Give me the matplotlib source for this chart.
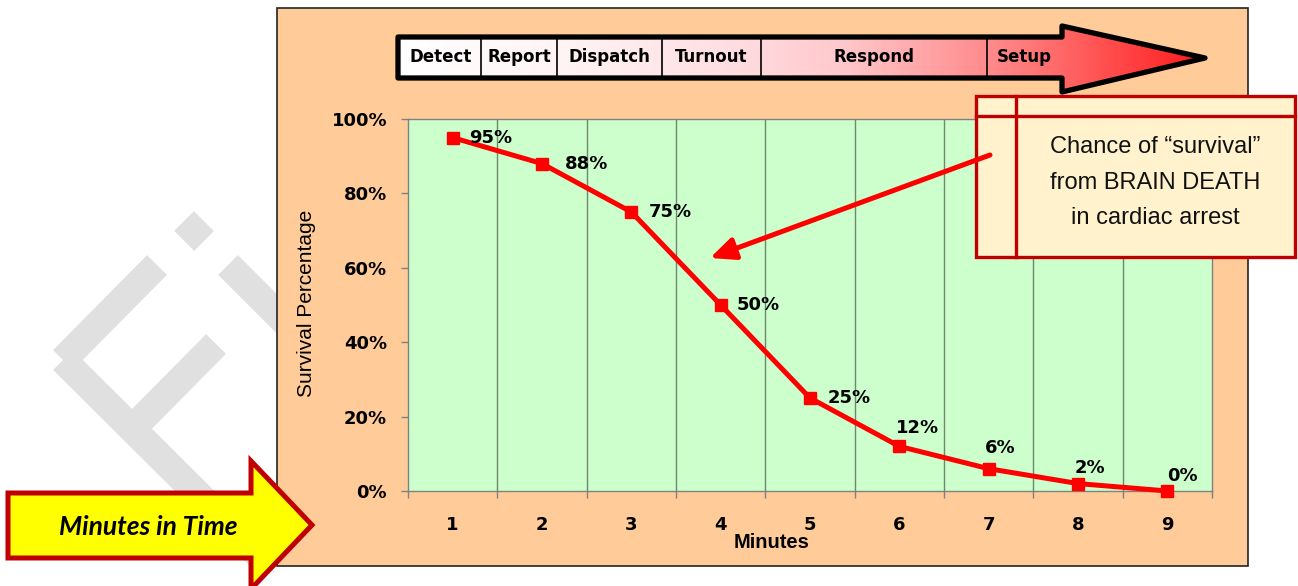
import numpy as np
import matplotlib
matplotlib.use("Agg")
import matplotlib.pyplot as plt
from matplotlib.patches import Polygon, Rectangle, FancyArrowPatch
from matplotlib.colors import LinearSegmentedColormap

# survival chance by minute after cardiac arrest
minutes = [1, 2, 3, 4, 5, 6, 7, 8, 9]
survival = [0.95, 0.88, 0.75, 0.50, 0.25, 0.12, 0.06, 0.02, 0.00]
y_ticks = [0, 0.2, 0.4, 0.6, 0.8, 1.0]
y_tick_labels = ["0%", "20%", "40%", "60%", "80%", "100%"]
stages = ["Detect", "Report", "Dispatch", "Turnout", "Respond", "Setup"]
callout_lines = ["Chance of \u201csurvival\u201d", "from BRAIN DEATH", "in cardiac arrest"]

# label offsets in pixels (dx, dy up) from each point
label_off = [(38, 0), (45, 0), (39, 0), (38, 0), (39, 0),
             (18, 18), (12, 21), (12, 16), (15, 15)]

W, H = 1298, 586
fig = plt.figure(figsize=(W / 100, H / 100), dpi=100)
fig.patch.set_facecolor("white")

# background layer in pixel coordinates
bg = fig.add_axes([0, 0, 1, 1], zorder=0)
bg.set_xlim(0, W)
bg.set_ylim(H, 0)
bg.axis("off")

# faint watermark strokes
wm = "#e0e0e0"
wm_lw = 28 * 0.72
for (x0, y0), (x1, y1) in [((63, 360), (157, 265)), ((63, 360), (260, 556)),
                           ((128, 433), (216, 344)), ((184, 221), (204, 241)),
                           ((228, 265), (300, 337))]:
    bg.plot([x0, x1], [y0, y1], color=wm, lw=wm_lw, solid_capstyle="butt")

bg.add_patch(Rectangle((277, 8), 971, 558, facecolor="#ffcc99",
                       edgecolor="#222222", lw=1.2, zorder=2))

# main chart
ax = fig.add_axes([408 / W, 1 - 491 / H, 804 / W, 372 / H], zorder=1)
ax.set_facecolor("#ccffcc")
ax.set_xlim(0.5, 9.5)
ax.set_ylim(0, 1)
for s in ax.spines.values():
    s.set_color("#808080")
    s.set_linewidth(1)

for b in np.arange(1.5, 9, 1):
    ax.axvline(b, color="#6f876f", lw=1.0, zorder=1)

ax.plot(minutes, survival, color="#ff0000", lw=3.6, marker="s",
        markersize=8, zorder=3, clip_on=False)

for m, v, (dx, dy) in zip(minutes, survival, label_off):
    ax.annotate(f"{v * 100:.0f}%", (m, v), xytext=(dx, dy),
                textcoords="offset pixels", ha="center", va="center",
                fontsize=13, fontweight="bold", family="DejaVu Sans", zorder=4)

ax.set_yticks(y_ticks)
ax.set_yticklabels(y_tick_labels)
ax.set_xticks(minutes)
ax.set_xticks(np.arange(0.5, 10, 1), minor=True)
ax.tick_params(axis="y", direction="out", length=5, width=1, color="#808080",
               pad=10, labelsize=13)
ax.tick_params(axis="x", which="major", length=0, pad=18, labelsize=13)
ax.tick_params(axis="x", which="minor", direction="out", length=5, width=1,
               color="#808080")
for lab in ax.get_xticklabels() + ax.get_yticklabels():
    lab.set_fontweight("bold")
    lab.set_family("DejaVu Sans")

fig.text(772 / W, 1 - 542 / H, "Minutes", ha="center", va="center",
         fontsize=14.5, fontweight="bold", family="Liberation Sans")
fig.text(307 / W, 1 - 303 / H, "Survival Percentage", ha="center", va="center",
         rotation=90, fontsize=15, family="Liberation Sans")

# overlay layer for arrows and callout
top = fig.add_axes([0, 0, 1, 1], zorder=3)
top.patch.set_alpha(0)
top.axis("off")

# timeline arrow with white-to-red gradient
arrow_pts = [(398, 37), (1062, 37), (1062, 26), (1205, 58),
             (1062, 92), (1062, 78), (398, 78)]
grad = LinearSegmentedColormap.from_list(
    "wr", [(0, "#ffffff"), (0.2, "#fff4f5"), (0.42, "#ffdde0"),
           (0.55, "#ffc8cc"), (0.78, "#ff7a7a"), (1.0, "#ff1a1a")])
img = top.imshow(np.linspace(0, 1, 256).reshape(1, -1), cmap=grad,
                 extent=(398, 1205, 92, 26), aspect="auto", zorder=1)
clip = Polygon(arrow_pts, closed=True, transform=top.transData)
img.set_clip_path(clip)
top.add_patch(Polygon(arrow_pts, closed=True, facecolor="none",
                      edgecolor="black", lw=3.8, joinstyle="round", zorder=3))
bounds = [400, 481, 557, 662, 761, 987, 1062]
for xb in bounds[1:-1]:
    top.plot([xb, xb], [39, 76], color="black", lw=1.2, zorder=2)
for name, x0, x1 in zip(stages, bounds[:-1], bounds[1:]):
    top.text((x0 + x1) / 2, 57.5, name, ha="center", va="center",
             fontsize=12, fontweight="bold", family="DejaVu Sans", zorder=4)

# callout box
top.add_patch(Rectangle((976, 96), 319, 161, facecolor="#fff2cc",
                        edgecolor="#c00000", lw=2.4, zorder=5))
top.plot([976, 1295], [116, 116], color="#c00000", lw=2.4, zorder=6)
top.plot([1016, 1016], [96, 257], color="#c00000", lw=2.4, zorder=6)
for line, yy in zip(callout_lines, [147, 183, 218]):
    top.text(1155, yy, line, ha="center", va="center", fontsize=17,
             family="Liberation Sans", color="#111111", zorder=7)

top.add_patch(FancyArrowPatch((990, 155), (710, 258),
                              arrowstyle="-|>,head_length=1.0,head_width=0.45",
                              mutation_scale=15, color="#ff0000", lw=3.6,
                              shrinkA=0, shrinkB=0, zorder=6))

# yellow "minutes" arrow
yellow_pts = [(8, 493), (251, 493), (251, 461), (312, 525),
              (251, 589), (251, 558), (8, 558)]
top.add_patch(Polygon(yellow_pts, closed=True, facecolor="#ffff00",
                      edgecolor="#c00000", lw=3.6, joinstyle="miter", zorder=5))
top.text(148, 527, "Minutes in Time", ha="center", va="center", fontsize=19,
         fontweight="bold", fontstyle="italic", family="Lato", zorder=6)

top.set_xlim(0, W)
top.set_ylim(H, 0)

fig.savefig("out.png", dpi=100)
